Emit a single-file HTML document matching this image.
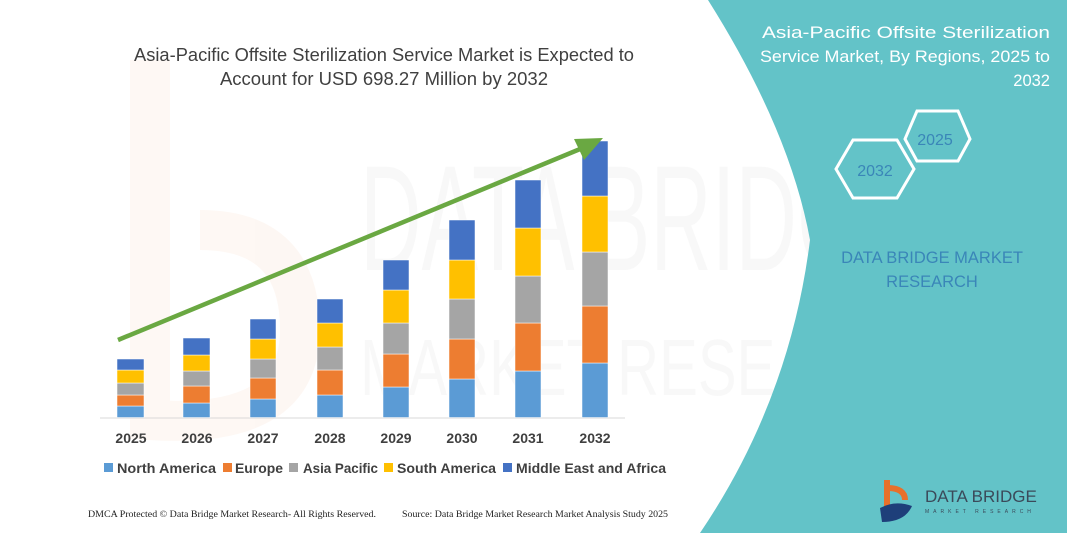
<!DOCTYPE html>
<html><head><meta charset="utf-8"><style>
body{margin:0;width:1067px;height:533px;overflow:hidden;background:#fff}
svg{display:block}
</style></head><body>
<svg width="1067" height="533" viewBox="0 0 1067 533" xmlns="http://www.w3.org/2000/svg" font-family="Liberation Sans, sans-serif">
<g opacity="0.05">
<text x="360" y="270" font-size="150" fill="#888" textLength="560" lengthAdjust="spacingAndGlyphs">DATA BRIDGE</text>
<text x="360" y="395" font-size="80" fill="#888" textLength="580" lengthAdjust="spacingAndGlyphs">MARKET RESEARCH</text>
<path d="M150 60 L150 420 Q300 430 300 330 Q300 230 200 230" stroke="#e8702a" stroke-width="40" fill="none"/>
</g>
<path d="M708 0 L1067 0 L1067 533 L700 533 Q790 400 810 240 Q790 130 708 0 Z" fill="#63c3c8"/>
<text font-size="16.5" fill="#fff" text-anchor="end"><tspan x="1050" y="38" textLength="288" lengthAdjust="spacingAndGlyphs">Asia-Pacific Offsite Sterilization</tspan><tspan x="1050" y="62" textLength="290" lengthAdjust="spacingAndGlyphs">Service Market, By Regions, 2025 to</tspan><tspan x="1050" y="86">2032</tspan></text>
<polygon points="917,111 958,111 970,139 958,161 917,161 905,139" fill="none" stroke="#fff" stroke-width="3"/>
<text x="935" y="145" font-size="16" fill="#3a86b8" text-anchor="middle">2025</text>
<polygon points="853,140 897,140 914,169 897,198 853,198 836,169" fill="none" stroke="#fff" stroke-width="3"/>
<text x="875" y="176" font-size="16" fill="#3a86b8" text-anchor="middle">2032</text>
<text font-size="16.5" fill="#3a86b8" text-anchor="middle"><tspan x="932" y="263">DATA BRIDGE MARKET</tspan><tspan x="932" y="287">RESEARCH</tspan></text>
<path d="M887 480 L887 512 M887 488 Q905 488 905 500" stroke="#e8702a" stroke-width="6" fill="none"/>
<path d="M880 508 Q895 500 912 506 Q905 522 882 522 Z" fill="#1e3f7a"/>
<text x="925" y="502" font-size="17" fill="#3b4a5a">DATA BRIDGE</text>
<text x="925" y="513" font-size="5" fill="#3b4a5a" letter-spacing="4">MARKET RESEARCH</text>
<text font-size="18.5" fill="#404040" text-anchor="middle"><tspan x="384" y="61" textLength="500" lengthAdjust="spacingAndGlyphs">Asia-Pacific Offsite Sterilization Service Market is Expected to</tspan><tspan x="384" y="85">Account for USD 698.27 Million by 2032</tspan></text>
<line x1="100" y1="418" x2="625" y2="418" stroke="#d9d9d9" stroke-width="1"/>
<g stroke="#fff" stroke-width="0.5">
<rect x="117" y="406" width="27" height="11.5" fill="#5b9bd5"/><rect x="117" y="395" width="27" height="11" fill="#ed7d31"/><rect x="117" y="383" width="27" height="12" fill="#a5a5a5"/><rect x="117" y="370" width="27" height="13" fill="#ffc000"/><rect x="117" y="359" width="27" height="11" fill="#4472c4"/>
<rect x="183" y="403" width="27" height="14.5" fill="#5b9bd5"/><rect x="183" y="386" width="27" height="17" fill="#ed7d31"/><rect x="183" y="371" width="27" height="15" fill="#a5a5a5"/><rect x="183" y="355" width="27" height="16" fill="#ffc000"/><rect x="183" y="338" width="27" height="17" fill="#4472c4"/>
<rect x="250" y="399" width="26" height="18.5" fill="#5b9bd5"/><rect x="250" y="378" width="26" height="21" fill="#ed7d31"/><rect x="250" y="359" width="26" height="19" fill="#a5a5a5"/><rect x="250" y="339" width="26" height="20" fill="#ffc000"/><rect x="250" y="319" width="26" height="20" fill="#4472c4"/>
<rect x="317" y="395" width="26" height="22.5" fill="#5b9bd5"/><rect x="317" y="370" width="26" height="25" fill="#ed7d31"/><rect x="317" y="347" width="26" height="23" fill="#a5a5a5"/><rect x="317" y="323" width="26" height="24" fill="#ffc000"/><rect x="317" y="299" width="26" height="24" fill="#4472c4"/>
<rect x="383" y="387" width="26" height="30.5" fill="#5b9bd5"/><rect x="383" y="354" width="26" height="33" fill="#ed7d31"/><rect x="383" y="323" width="26" height="31" fill="#a5a5a5"/><rect x="383" y="290" width="26" height="33" fill="#ffc000"/><rect x="383" y="260" width="26" height="30" fill="#4472c4"/>
<rect x="449" y="379" width="26" height="38.5" fill="#5b9bd5"/><rect x="449" y="339" width="26" height="40" fill="#ed7d31"/><rect x="449" y="299" width="26" height="40" fill="#a5a5a5"/><rect x="449" y="260" width="26" height="39" fill="#ffc000"/><rect x="449" y="220" width="26" height="40" fill="#4472c4"/>
<rect x="515" y="371" width="26" height="46.5" fill="#5b9bd5"/><rect x="515" y="323" width="26" height="48" fill="#ed7d31"/><rect x="515" y="276" width="26" height="47" fill="#a5a5a5"/><rect x="515" y="228" width="26" height="48" fill="#ffc000"/><rect x="515" y="180" width="26" height="48" fill="#4472c4"/>
<rect x="582" y="363" width="26" height="54.5" fill="#5b9bd5"/><rect x="582" y="306" width="26" height="57" fill="#ed7d31"/><rect x="582" y="252" width="26" height="54" fill="#a5a5a5"/><rect x="582" y="196" width="26" height="56" fill="#ffc000"/><rect x="582" y="141" width="26" height="55" fill="#4472c4"/>
</g>
<line x1="118" y1="340" x2="585" y2="147" stroke="#6aa842" stroke-width="4.5"/>
<polygon points="603,138 574,139 584,160" fill="#6aa842"/>
<g font-size="14" font-weight="bold" fill="#404040" text-anchor="middle">
<text x="131" y="443">2025</text><text x="197" y="443">2026</text><text x="263" y="443">2027</text><text x="330" y="443">2028</text><text x="396" y="443">2029</text><text x="462" y="443">2030</text><text x="528" y="443">2031</text><text x="595" y="443">2032</text>
</g>
<g font-size="14" font-weight="bold" fill="#404040">
<rect x="104" y="463" width="9" height="9" fill="#5b9bd5"/><text x="117" y="473" textLength="99" lengthAdjust="spacingAndGlyphs">North America</text>
<rect x="223" y="463" width="9" height="9" fill="#ed7d31"/><text x="235" y="473" textLength="48" lengthAdjust="spacingAndGlyphs">Europe</text>
<rect x="289" y="463" width="9" height="9" fill="#a5a5a5"/><text x="303" y="473" textLength="75" lengthAdjust="spacingAndGlyphs">Asia Pacific</text>
<rect x="384" y="463" width="9" height="9" fill="#ffc000"/><text x="397" y="473" textLength="99" lengthAdjust="spacingAndGlyphs">South America</text>
<rect x="503" y="463" width="9" height="9" fill="#4472c4"/><text x="516" y="473" textLength="150" lengthAdjust="spacingAndGlyphs">Middle East and Africa</text>
</g>
<g font-family="Liberation Serif, serif" font-size="9.5" fill="#222">
<text x="88" y="517" textLength="288" lengthAdjust="spacingAndGlyphs">DMCA Protected © Data Bridge Market Research-  All Rights Reserved.</text>
<text x="402" y="517" textLength="266" lengthAdjust="spacingAndGlyphs">Source: Data Bridge Market Research  Market Analysis Study 2025</text>
</g>
</svg>
</body></html>
